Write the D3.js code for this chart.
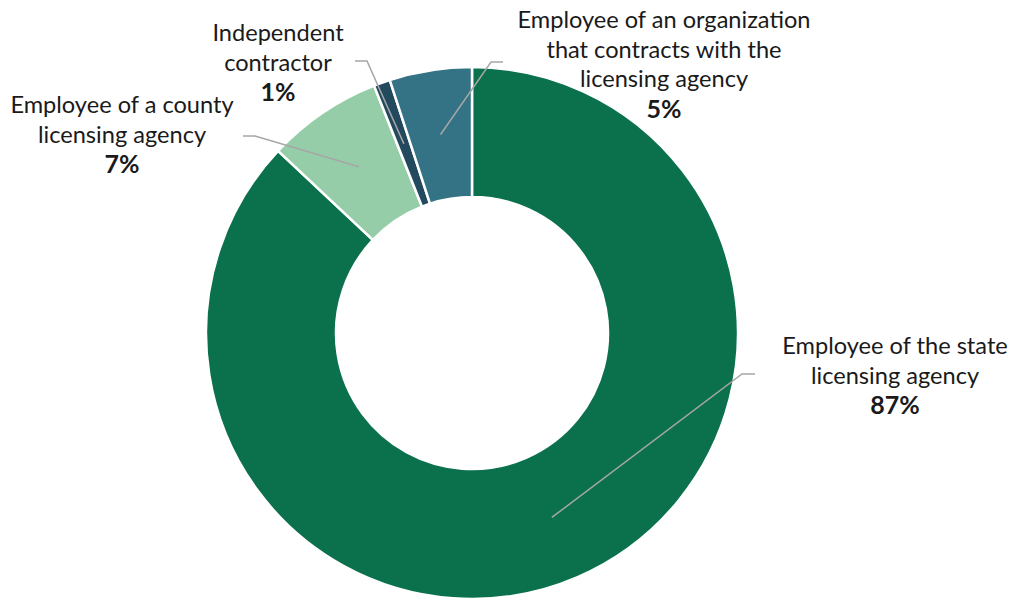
<!DOCTYPE html>
<html>
<head>
<meta charset="utf-8">
<script src="https://cdn.jsdelivr.net/npm/d3@7"></script>
<style>
  html, body { margin: 0; padding: 0; background: #ffffff; }
  svg { display: block; }
  text { font-family: Lato, "Open Sans", sans-serif; fill: #1a1a1a; }
</style>
</head>
<body>
<svg id="chart" width="1010" height="598"></svg>
<script>
// Role of respondents (share of total, %)
const categories = [
  "Employee of the state licensing agency",
  "Employee of a county licensing agency",
  "Independent contractor",
  "Employee of an organization that contracts with the licensing agency"
];
const shares = [87, 7, 1, 5];
const labelLines = [
  ["Employee of the state", "licensing agency"],
  ["Employee of a county", "licensing agency"],
  ["Independent", "contractor"],
  ["Employee of an organization", "that contracts with the", "licensing agency"]
];
const colors = ["#0b714d", "#96cda9", "#23495f", "#337385"];

// Label placement: text block centre/first baseline and leader elbow
const labelLayout = [
  { x: 895, y: 354, elbow: [742, 374], end: [755, 374] },
  { x: 122, y: 113, elbow: [255, 136], end: [243, 136] },
  { x: 278, y: 41,  elbow: [367, 61],  end: [355, 61] },
  { x: 664, y: 28,  elbow: [491, 62],  end: [503, 62] }
];

const cx = 472, cy = 333, outerR = 266, innerR = 136, lineH = 29.5;

const svg = d3.select("#chart");
const g = svg.append("g").attr("transform", `translate(${cx},${cy})`);

const pie = d3.pie().sort(null).value(d => d)(shares);
const arc = d3.arc().innerRadius(innerR).outerRadius(outerR);
const midArc = d3.arc().innerRadius((innerR + outerR) / 2).outerRadius((innerR + outerR) / 2);

g.selectAll("path.slice")
  .data(pie)
  .join("path")
  .attr("class", "slice")
  .attr("d", arc)
  .attr("fill", (d, i) => colors[i])
  .attr("stroke", "#ffffff")
  .attr("stroke-width", 2.5)
  .attr("stroke-linejoin", "miter");

// Leader lines
pie.forEach((d, i) => {
  const [mx, my] = midArc.centroid(d);
  const L = labelLayout[i];
  svg.append("polyline")
    .attr("points", [[mx + cx, my + cy], L.elbow, L.end].map(p => p.join(",")).join(" "))
    .attr("fill", "none")
    .attr("stroke", "#a6a6a6")
    .attr("stroke-width", 1.5);
});

// Labels
pie.forEach((d, i) => {
  const L = labelLayout[i];
  const t = svg.append("text")
    .attr("text-anchor", "middle")
    .attr("font-size", 23.6);
  labelLines[i].forEach((line, k) => {
    t.append("tspan").attr("x", L.x).attr("y", L.y + k * lineH).text(line);
  });
  t.append("tspan")
    .attr("x", L.x)
    .attr("y", L.y + labelLines[i].length * lineH + 1)
    .attr("font-weight", "bold")
    .attr("font-size", 25)
    .text(d.data + "%");
});
</script>
</body>
</html>
